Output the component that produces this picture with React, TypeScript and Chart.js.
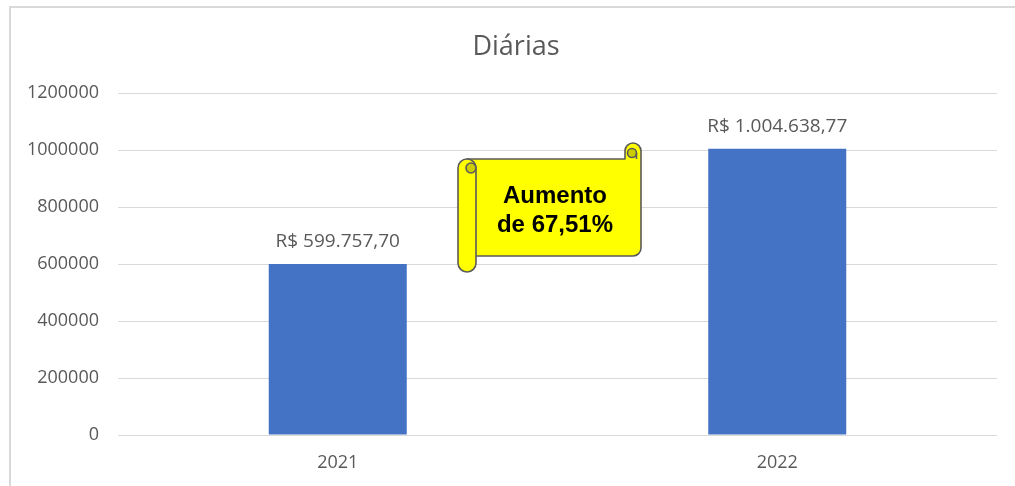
import React, { useEffect, useRef } from "react";
import { Chart, registerables } from "chart.js";

Chart.register(...registerables);

const categories: string[] = ["2021", "2022"];
const values: number[] = [599757.7, 1004638.77];
const yTicks: number[] = [0, 200000, 400000, 600000, 800000, 1000000, 1200000];
const chartTitle = "Diárias";
const noteLines: string[] = ["Aumento", "de 67,51%"];

const GRAY = "#595959";
const BAR = "#4472C4";

function brl(v: number): string {
  const [i, d] = v.toFixed(2).split(".");
  const ip = i.replace(/\B(?=(\d{3})+(?!\d))/g, ".");
  return "R$ " + ip + "," + d;
}

const extrasPlugin = {
  id: "extras",
  afterDatasetsDraw(chart: any) {
    const ctx = chart.ctx as CanvasRenderingContext2D;
    const meta = chart.getDatasetMeta(0);
    ctx.save();
    ctx.font = '19px "Open Sans"';
    ctx.fillStyle = GRAY;
    ctx.textAlign = "center";
    ctx.textBaseline = "middle";
    meta.data.forEach((bar: any, i: number) => {
      ctx.fillText(brl(values[i]), bar.x, bar.y - 22);
    });
    ctx.restore();
  },
  afterDraw(chart: any) {
    const ctx = chart.ctx as CanvasRenderingContext2D;
    ctx.save();
    // title
    ctx.font = '27px "Open Sans"';
    ctx.fillStyle = GRAY;
    ctx.textAlign = "center";
    ctx.textBaseline = "alphabetic";
    ctx.fillText(chartTitle, 516, 55);

    // frame
    ctx.strokeStyle = "#d9d9d9";
    ctx.lineWidth = 2;
    ctx.beginPath();
    ctx.moveTo(1015, 7);
    ctx.lineTo(10, 7);
    ctx.lineTo(10, 486);
    ctx.stroke();

    // scroll annotation
    const Y = "#FFFF00";
    const S = "#5a5a5a";
    const D = "#CCCC00";
    ctx.lineWidth = 1.6;
    ctx.lineJoin = "round";
    ctx.strokeStyle = S;

    // body + right roll
    ctx.beginPath();
    ctx.moveTo(467, 159);
    ctx.lineTo(625, 159);
    ctx.lineTo(625, 151);
    ctx.arc(633, 151, 8, Math.PI, 0, false);
    ctx.lineTo(641, 248);
    ctx.arcTo(641, 256, 633, 256, 8);
    ctx.lineTo(467, 256);
    ctx.closePath();
    ctx.fillStyle = Y;
    ctx.fill();
    ctx.stroke();

    // right curl
    ctx.beginPath();
    ctx.arc(632, 153, 4.5, 0, Math.PI * 2);
    ctx.fillStyle = D;
    ctx.fill();
    ctx.stroke();
    ctx.beginPath();
    ctx.moveTo(636.5, 153);
    ctx.lineTo(636.5, 159);
    ctx.stroke();

    // left roll
    ctx.beginPath();
    ctx.moveTo(458, 168);
    ctx.arc(467, 168, 9, Math.PI, 0, false);
    ctx.lineTo(476, 263);
    ctx.arc(467, 263, 9, 0, Math.PI, false);
    ctx.closePath();
    ctx.fillStyle = Y;
    ctx.fill();
    ctx.stroke();

    ctx.beginPath();
    ctx.arc(471, 168, 5, 0, Math.PI * 2);
    ctx.fillStyle = D;
    ctx.fill();
    ctx.stroke();

    // text
    ctx.fillStyle = "#000000";
    ctx.font = 'bold 24px "Liberation Sans", Arial, sans-serif';
    ctx.textAlign = "center";
    ctx.textBaseline = "middle";
    ctx.fillText(noteLines[0], 555, 196);
    ctx.fillText(noteLines[1], 555, 225);
    ctx.restore();
  },
};

export default function App() {
  const ref = useRef<HTMLCanvasElement | null>(null);

  useEffect(() => {
    document.body.style.margin = "0";
    const canvas = ref.current;
    if (!canvas) return;
    const chart = new Chart(canvas, {
      type: "bar",
      data: {
        labels: categories,
        datasets: [
          {
            data: values,
            backgroundColor: BAR,
            borderWidth: 0,
            categoryPercentage: 1,
            barPercentage: 0.314,
          },
        ],
      },
      options: {
        animation: false,
        responsive: false,
        devicePixelRatio: 1,
        layout: { padding: { top: 93, right: 18, bottom: 0, left: 0 } },
        plugins: {
          legend: { display: false },
          tooltip: { enabled: false },
          title: { display: false },
        },
        scales: {
          x: {
            grid: { display: false, drawTicks: false },
            border: { display: false },
            ticks: {
              color: GRAY,
              font: { family: '"Open Sans"', size: 18 },
              padding: 17,
            },
            afterFit(scale: any) {
              scale.height = 51;
            },
          },
          y: {
            min: 0,
            max: 1200000,
            afterBuildTicks(scale: any) {
              scale.ticks = yTicks.map((v) => ({ value: v }));
            },
            grid: { color: "#d9d9d9", lineWidth: 1, drawTicks: false },
            border: { display: false },
            ticks: {
              color: GRAY,
              font: { family: '"Open Sans"', size: 18 },
              padding: 19,
              callback: (v: any) => String(v),
            },
            afterFit(scale: any) {
              scale.width = 118;
            },
          },
        },
      },
      plugins: [extrasPlugin],
    });
    return () => chart.destroy();
  }, []);

  return (
    <div style={{ width: 1015, height: 486 }}>
      <canvas ref={ref} width={1015} height={486} style={{ display: "block" }} />
    </div>
  );
}
